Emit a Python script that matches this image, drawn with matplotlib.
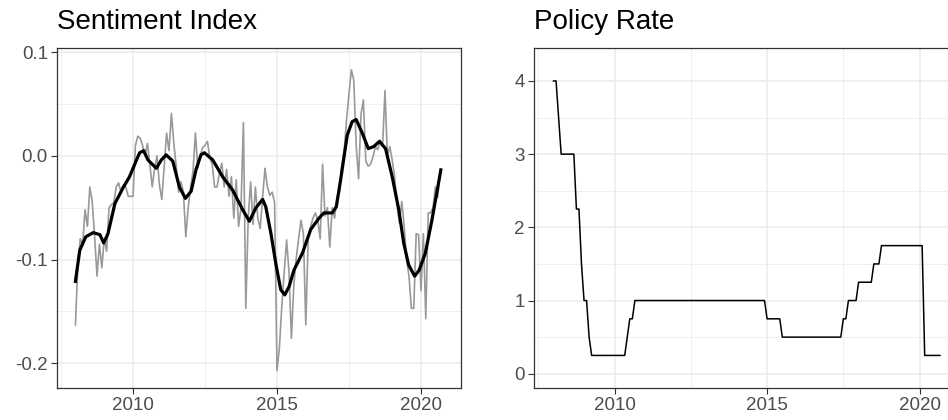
import numpy as np
import matplotlib
matplotlib.use('Agg')
import matplotlib.pyplot as plt

plt.rcParams['font.family'] = ['Liberation Sans', 'DejaVu Sans']

# monthly sentiment index, Jan 2008 .. Sep 2020
sentiment = [
    -0.163, -0.105, -0.080, -0.086, -0.052, -0.068, -0.030, -0.044, -0.078, -0.116, -0.085, -0.108,  # 2008
    -0.080, -0.092, -0.050, -0.047, -0.045, -0.030, -0.026, -0.035, -0.028, -0.030, -0.039, -0.039,  # 2009
    -0.039, 0.010, 0.019, 0.017, 0.010, 0.000, 0.012, -0.008, -0.030, -0.012, 0.000, -0.028,         # 2010
    -0.042, -0.010, 0.022, 0.005, 0.041, 0.012, -0.010, -0.035, -0.025, -0.035, -0.078, -0.050,      # 2011
    -0.030, -0.015, 0.022, -0.012, 0.000, 0.008, 0.010, 0.014, -0.002, -0.008, -0.030, -0.030,       # 2012
    -0.017, -0.007, -0.030, -0.013, -0.039, -0.020, -0.060, -0.023, -0.068, -0.050, 0.032, -0.147,   # 2013
    -0.060, -0.025, -0.066, -0.030, -0.060, -0.070, -0.040, -0.012, -0.030, -0.038, -0.035, -0.045,  # 2014
    -0.207, -0.185, -0.145, -0.112, -0.081, -0.112, -0.176, -0.125, -0.099, -0.080, -0.062, -0.075,  # 2015
    -0.163, -0.080, -0.068, -0.060, -0.055, -0.062, -0.080, -0.008, -0.058, -0.050, -0.088, -0.050,  # 2016
    -0.060, -0.040, -0.035, -0.010, 0.005, 0.035, 0.060, 0.083, 0.073, 0.010, -0.022, 0.040,         # 2017
    0.054, -0.005, -0.010, -0.008, -0.001, 0.009, 0.006, 0.015, 0.009, 0.063, 0.000, 0.009,          # 2018
    -0.004, -0.020, -0.046, -0.065, -0.044, -0.068, -0.100, -0.116, -0.147, -0.147, -0.075, -0.076,  # 2019
    -0.130, -0.075, -0.157, -0.055, -0.055, -0.050, -0.030, -0.040, -0.014,                          # 2020
]

# smoothed trend
trend_year = [2008.00, 2008.15, 2008.36, 2008.62, 2008.85, 2008.98, 2009.13, 2009.37, 2009.65, 2009.88,
              2010.12, 2010.23, 2010.37, 2010.52, 2010.81, 2010.98, 2011.15, 2011.38, 2011.61, 2011.82,
              2012.02, 2012.19, 2012.36, 2012.48, 2012.77, 2013.11, 2013.46, 2013.81, 2014.04, 2014.27,
              2014.50, 2014.61, 2014.79, 2014.96, 2015.13, 2015.27, 2015.42, 2015.59, 2015.88, 2016.17,
              2016.46, 2016.63, 2016.92, 2017.06, 2017.21, 2017.44, 2017.61, 2017.75, 2017.96, 2018.17,
              2018.36, 2018.56, 2018.77, 2019.00, 2019.23, 2019.40, 2019.57, 2019.78, 2019.94, 2020.15,
              2020.38, 2020.69]
trend_value = [-0.121, -0.091, -0.078, -0.074, -0.076, -0.084, -0.075, -0.046, -0.031, -0.020,
               -0.004, 0.003, 0.005, -0.004, -0.012, -0.004, 0.001, -0.005, -0.030, -0.041,
               -0.034, -0.013, 0.001, 0.003, -0.004, -0.020, -0.033, -0.052, -0.063, -0.050,
               -0.042, -0.049, -0.075, -0.104, -0.129, -0.134, -0.126, -0.110, -0.094, -0.071,
               -0.060, -0.055, -0.055, -0.049, -0.023, 0.020, 0.033, 0.035, 0.022, 0.007,
               0.009, 0.014, 0.007, -0.020, -0.052, -0.084, -0.105, -0.116, -0.110, -0.094,
               -0.062, -0.0135]

# monthly policy rate (%), Jan 2008 .. Sep 2020
policy_rate = (
    [4.0, 4.0, 3.5] + [3.0] * 6 + [2.25, 2.25, 1.5]   # 2008
    + [1.0, 1.0, 0.5] + [0.25] * 9                    # 2009
    + [0.25] * 5 + [0.5, 0.75, 0.75] + [1.0] * 4      # 2010
    + [1.0] * 48                                      # 2011-2014
    + [0.75] * 6 + [0.5] * 6                          # 2015
    + [0.5] * 12                                      # 2016
    + [0.5] * 6 + [0.75, 0.75] + [1.0] * 4            # 2017
    + [1.25] * 6 + [1.5] * 3 + [1.75] * 3             # 2018
    + [1.75] * 12                                     # 2019
    + [1.75, 1.75] + [0.25] * 7                       # 2020
)

months = 2008 + np.arange(len(sentiment)) / 12

border = '#333333'
grid_c = '#EBEBEB'
label_c = '#4D4D4D'

fig = plt.figure(figsize=(9.48, 4.2), dpi=100)
ax1 = fig.add_axes([57 / 948, 32 / 420, 404 / 948, 340 / 420])
ax2 = fig.add_axes([534 / 948, 32 / 420, 428 / 948, 340 / 420])

xlim = (2007.36, 2021.39)

for ax in (ax1, ax2):
    ax.set_xlim(xlim)
    ax.set_xticks([2010, 2015, 2020])
    ax.set_xticks([2007.5, 2012.5, 2017.5], minor=True)
    ax.grid(True, which='major', color=grid_c, lw=1.1)
    ax.grid(True, which='minor', color=grid_c, lw=0.55)
    ax.set_axisbelow(True)
    for s in ax.spines.values():
        s.set_color(border)
        s.set_linewidth(0.9)
    ax.tick_params(which='major', length=4, width=0.8, color=border,
                   labelsize=13.5, labelcolor=label_c, pad=2.5)
    ax.tick_params(which='minor', length=0)

# Sentiment Index
ax1.plot(months, sentiment, color='#999999', lw=1.2)
ax1.plot(trend_year, trend_value, color='black', lw=2.3, solid_joinstyle='round')
ax1.set_ylim(-0.2238, 0.104)
ax1.set_yticks([-0.2, -0.1, 0.0, 0.1])
ax1.set_yticklabels(['-0.2', '-0.1', '0.0', '0.1'])
ax1.set_yticks([-0.15, -0.05, 0.05], minor=True)
ax1.set_title('Sentiment Index', loc='left', fontsize=20, pad=13.5)

# Policy Rate
ax2.plot(months, policy_rate, color='black', lw=1.1)
ax2.set_ylim(-0.195, 4.45)
ax2.set_yticks([0, 1, 2, 3, 4])
ax2.set_yticks([0.5, 1.5, 2.5, 3.5], minor=True)
ax2.set_title('Policy Rate', loc='left', fontsize=20, pad=13.5)

fig.savefig('out.png', dpi=100)
